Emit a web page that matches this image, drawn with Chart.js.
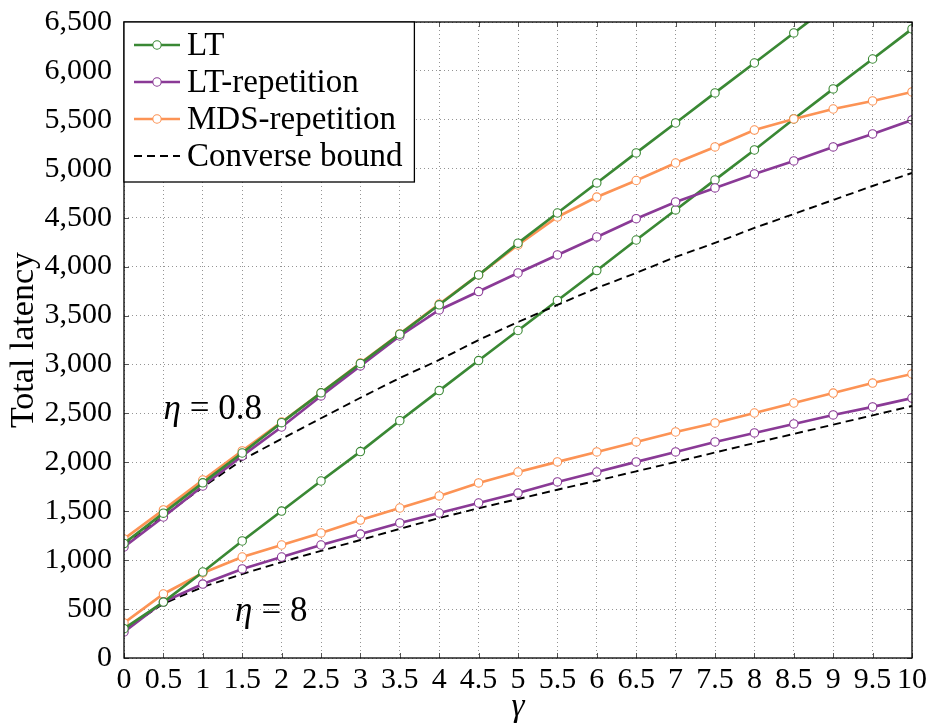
<!DOCTYPE html>
<html>
<head>
<meta charset="utf-8">
<script src="https://cdn.jsdelivr.net/npm/chart.js@4.4.1/dist/chart.umd.min.js"></script>
<style>
  body { margin: 0; background: #fff; }
  #wrap { width: 929px; height: 727px; position: relative; }
</style>
</head>
<body>
<div id="wrap"><canvas id="latencyChart"></canvas></div>
<script>
// gamma values on the x axis
const gamma = [0, 0.5, 1, 1.5, 2, 2.5, 3, 3.5, 4, 4.5, 5, 5.5, 6, 6.5, 7, 7.5, 8, 8.5, 9, 9.5, 10];

// eta = 0.8
const lt08 = [1170, 1480, 1790, 2095, 2405, 2710, 3010, 3310, 3610, 3915, 4240, 4548, 4855, 5162, 5468, 5775, 6081, 6388, 6695, null, null];
const ltRep08 = [1135, 1441, 1758, 2065, 2361, 2678, 2985, 3291, 3557, 3745, 3935, 4119, 4303, 4490, 4661, 4804, 4947, 5080, 5223, 5356, 5499];
const mdsRep08 = [1216, 1513, 1819, 2116, 2412, 2709, 3015, 3312, 3618, 3915, 4221, 4507, 4711, 4880, 5059, 5223, 5396, 5509, 5611, 5693, 5785];
const conv08 = [1150, 1450, 1745, 2025, 2240, 2450, 2660, 2862, 3046, 3250, 3434, 3608, 3782, 3935, 4099, 4242, 4395, 4538, 4681, 4824, 4957];

// eta = 8
const lt8 = [300, 572, 879, 1196, 1502, 1809, 2110, 2425, 2733, 3040, 3347, 3654, 3960, 4272, 4579, 4886, 5192, 5509, 5816, 6122, 6429];
const ltRep8 = [266, 572, 756, 910, 1032, 1155, 1267, 1380, 1482, 1584, 1686, 1799, 1901, 2004, 2106, 2208, 2300, 2392, 2484, 2566, 2657];
const mdsRep8 = [358, 654, 869, 1032, 1155, 1278, 1410, 1533, 1656, 1789, 1901, 2004, 2106, 2208, 2310, 2402, 2504, 2606, 2708, 2810, 2903];
const conv8 = [290, 555, 726, 858, 981, 1095, 1206, 1320, 1431, 1530, 1625, 1720, 1812, 1908, 2003, 2100, 2197, 2290, 2385, 2480, 2575];

const seriesNames = ['LT', 'LT-repetition', 'MDS-repetition', 'Converse bound'];
const yTicks = [0, 500, 1000, 1500, 2000, 2500, 3000, 3500, 4000, 4500, 5000, 5500, 6000, 6500];
const etaLabels = ['0.8', '8'];

const GREEN = '#3a8834';
const PURPLE = '#8a3a96';
const ORANGE = '#fc9355';
const SERIF = '"Liberation Serif", "DejaVu Serif", serif';

function pts(vals) {
    return gamma.map((g, i) => ({ x: g, y: vals[i] }));
}

function lineSet(label, vals, color) {
    return {
        label: label,
        data: pts(vals),
        borderColor: color,
        backgroundColor: '#fff',
        borderWidth: 2.7,
        pointRadius: 4.2,
        pointBorderWidth: 1.1,
        pointBorderColor: color,
        pointBackgroundColor: '#fff',
        tension: 0
    };
}

function boundSet(label, vals) {
    return {
        label: label,
        data: pts(vals),
        borderColor: '#000',
        borderWidth: 1.9,
        borderDash: [8, 5],
        pointRadius: 0,
        tension: 0
    };
}

// frame, inward ticks, legend and eta labels
const decorations = {
    id: 'decorations',
    afterDatasetsDraw(chart) {
        const ctx = chart.ctx;
        const a = chart.chartArea;
        const xs = chart.scales.x, ys = chart.scales.y;
        ctx.save();

        // inward tick marks on all four sides
        ctx.strokeStyle = '#555';
        ctx.lineWidth = 1;
        ctx.beginPath();
        gamma.forEach(g => {
            const px = Math.round(xs.getPixelForValue(g)) + 0.5;
            ctx.moveTo(px, a.bottom); ctx.lineTo(px, a.bottom - 5);
            ctx.moveTo(px, a.top); ctx.lineTo(px, a.top + 5);
        });
        yTicks.forEach(v => {
            const py = Math.round(ys.getPixelForValue(v)) + 0.5;
            ctx.moveTo(a.left, py); ctx.lineTo(a.left + 5, py);
            ctx.moveTo(a.right, py); ctx.lineTo(a.right - 5, py);
        });
        ctx.stroke();

        // frame
        ctx.strokeStyle = '#000';
        ctx.lineWidth = 1.3;
        ctx.strokeRect(a.left, a.top, a.right - a.left, a.bottom - a.top);

        // eta labels
        const etaPos = [[0.5, 2535], [1.41, 470]];
        etaPos.forEach((p, i) => {
            let x = xs.getPixelForValue(p[0]);
            const y = ys.getPixelForValue(p[1]);
            ctx.fillStyle = '#000';
            ctx.textBaseline = 'middle';
            ctx.textAlign = 'left';
            ctx.font = 'italic 35px ' + SERIF;
            ctx.fillText('η', x, y);
            x += ctx.measureText('η').width + 9;
            ctx.font = '35px ' + SERIF;
            ctx.fillText('= ' + etaLabels[i], x, y);
        });

        // legend box
        const colors = [GREEN, PURPLE, ORANGE, '#000'];
        ctx.font = '33px ' + SERIF;
        const maxW = Math.max(...seriesNames.map(s => ctx.measureText(s).width));
        const bx = a.left, by = a.top;
        const textX = bx + 63;
        const bw = textX - bx + maxW + 12;
        const bh = 160;
        ctx.fillStyle = '#fff';
        ctx.fillRect(bx, by, bw, bh);
        ctx.strokeStyle = '#000';
        ctx.lineWidth = 1.3;
        ctx.strokeRect(bx, by, bw, bh);
        seriesNames.forEach((name, i) => {
            const cy = by + 23 + i * 37;
            ctx.strokeStyle = colors[i];
            ctx.setLineDash(i === 3 ? [8, 5] : []);
            ctx.lineWidth = i === 3 ? 1.9 : 2.7;
            ctx.beginPath();
            ctx.moveTo(bx + 10, cy);
            ctx.lineTo(bx + 56, cy);
            ctx.stroke();
            ctx.setLineDash([]);
            if (i < 3) {
                ctx.beginPath();
                ctx.arc(bx + 33, cy, 4.2, 0, Math.PI * 2);
                ctx.fillStyle = '#fff';
                ctx.fill();
                ctx.lineWidth = 1.1;
                ctx.stroke();
            }
            ctx.fillStyle = '#000';
            ctx.textBaseline = 'middle';
            ctx.fillText(name, textX, cy + 1);
        });
        ctx.restore();
    }
};

const ctx = document.getElementById('latencyChart').getContext('2d');
new Chart(ctx, {
    type: 'line',
    data: {
        datasets: [
            lineSet(seriesNames[0], lt08, GREEN),
            lineSet(seriesNames[1], ltRep08, PURPLE),
            lineSet(seriesNames[2], mdsRep08, ORANGE),
            boundSet(seriesNames[3], conv08),
            lineSet(seriesNames[0], lt8, GREEN),
            lineSet(seriesNames[1], ltRep8, PURPLE),
            lineSet(seriesNames[2], mdsRep8, ORANGE),
            boundSet(seriesNames[3], conv8)
        ]
    },
    options: {
        responsive: true,
        maintainAspectRatio: false,
        animation: false,
        layout: { padding: { left: 0, top: 22, right: 17, bottom: 0 } },
        plugins: {
            legend: { display: false },
            tooltip: { enabled: false }
        },
        scales: {
            x: {
                type: 'linear',
                min: 0,
                max: 10,
                afterFit: s => {
                    s.height = 69;
                    s.paddingLeft = 0;
                    s.paddingRight = 0;
                },
                afterBuildTicks: s => { s.ticks = gamma.map(v => ({ value: v })); },
                ticks: {
                    color: '#000',
                    font: { family: SERIF, size: 30 },
                    padding: 4,
                    maxRotation: 0,
                    autoSkip: false,
                    callback: v => String(v)
                },
                grid: { color: 'rgba(0,0,0,0.42)', lineWidth: 1, drawTicks: false },
                border: { display: false, dash: [1, 3] },
                title: {
                    display: true,
                    text: 'γ',
                    color: '#000',
                    font: { family: SERIF, size: 33, style: 'italic' },
                    padding: { top: 0, bottom: 0 }
                }
            },
            y: {
                min: 0,
                max: 6500,
                afterFit: s => {
                    s.width = 124;
                    s.paddingTop = 0;
                    s.paddingBottom = 0;
                },
                afterBuildTicks: s => { s.ticks = yTicks.map(v => ({ value: v })); },
                ticks: {
                    color: '#000',
                    font: { family: SERIF, size: 30 },
                    padding: 12,
                    callback: v => v.toLocaleString('en-US')
                },
                grid: { color: 'rgba(0,0,0,0.42)', lineWidth: 1, drawTicks: false },
                border: { display: false, dash: [1, 3] },
                title: {
                    display: true,
                    text: 'Total latency',
                    color: '#000',
                    font: { family: SERIF, size: 34 },
                    padding: { top: 4, bottom: 0 }
                }
            }
        }
    },
    plugins: [decorations]
});
</script>
</body>
</html>
